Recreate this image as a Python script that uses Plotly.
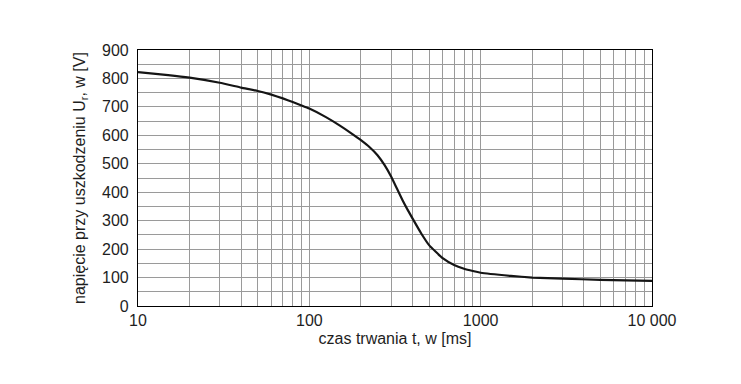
import plotly.graph_objects as go

# data
t_ms = [10, 15, 20, 30, 40, 50, 60, 70, 80, 90, 100, 125, 150, 175, 200, 225, 250, 275, 300, 325, 350,
        375, 400, 450, 500, 600, 700, 800, 900, 1000, 1500, 2000, 3000, 5000, 7000, 10000]
u_v = [822, 812, 803, 785, 768, 756, 743, 730, 717, 705, 694, 664, 635, 608, 583, 558, 530, 495, 455, 412, 372,
       338, 308, 255, 214, 168, 144, 131, 123, 117, 106, 100, 96, 92, 90, 88]

x_major = [10, 100, 1000, 10000]
x_major_text = ["10", "100", "1000", "10 000"]
x_minor = [m * d for d in [10, 100, 1000] for m in range(2, 10)]

y_ticks = list(range(0, 901, 100))

fig = go.Figure()
fig.add_trace(go.Scatter(x=t_ms, y=u_v, mode="lines",
                         line=dict(color="#151515", width=2.2, shape="spline", smoothing=0.4),
                         hoverinfo="skip", showlegend=False))

font = dict(family="Liberation Sans, Arial, sans-serif", size=16, color="#1e1e1e")
fig.update_layout(
    width=741, height=384,
    margin=dict(l=138, r=89, t=50, b=78),
    paper_bgcolor="white", plot_bgcolor="white",
    font=font,
    showlegend=False,
)
fig.update_xaxes(type="log", range=[1, 4], tickvals=x_major, ticktext=x_major_text,
                 showgrid=True, gridcolor="#9a9a9a", gridwidth=1,
                 minor=dict(tickmode="array", tickvals=x_minor, showgrid=True,
                            gridcolor="#9a9a9a", gridwidth=1, ticks=""),
                 showline=True, linecolor="black", linewidth=1.2, mirror=True,
                 ticks="", tickfont=font,
                 title=dict(text="czas trwania t, w [ms]", font=font, standoff=4))
fig.update_yaxes(range=[0, 900], tickvals=y_ticks,
                 showgrid=True, gridcolor="#9a9a9a", gridwidth=1,
                 minor=dict(dtick=50, showgrid=True, gridcolor="#9a9a9a", gridwidth=1),
                 showline=True, linecolor="black", linewidth=1.2, mirror=True,
                 ticks="", tickfont=font, zeroline=False, ticklabelstandoff=5,
                 title=dict(text="napięcie przy uszkodzeniu U<sub>r</sub>, w [V]",
                            font=dict(family=font["family"], size=16, color=font["color"]), standoff=12))

fig.write_html("out.html")
